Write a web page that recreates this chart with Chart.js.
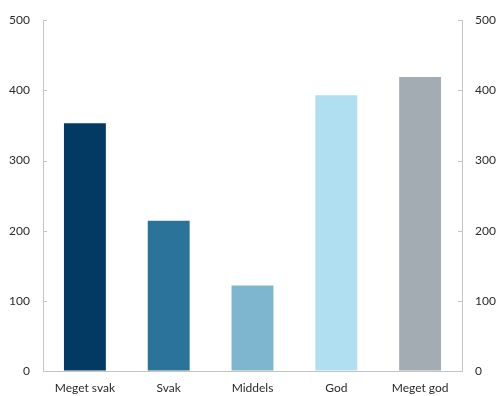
<!DOCTYPE html>
<html lang="no">
  <head>
    <meta charset="UTF-8" />
    <title>Vurdering</title>
    <style>
      html, body { margin: 0; padding: 0; background: #fff; }
      #wrap { width: 503px; height: 396px; }
    </style>
  </head>
  <body>
    <div id="wrap"><canvas id="chart" width="503" height="396"></canvas></div>

    <script src="https://cdn.jsdelivr.net/npm/chart.js@4/dist/chart.umd.min.js"></script>
    <script>
      // kategorier og verdier
      var kategorier = ['Meget svak', 'Svak', 'Middels', 'God', 'Meget god'];
      var antall = [353, 214, 122, 393, 419];
      var farger = ['#033a63', '#2c7399', '#7eb5cf', '#afdff0', '#a3abb3'];
      var aksemin = 0, aksemax = 500, steg = 100;

      var axisGrey = '#c4c4c4';
      var textCol = '#2a2a2a';

      // små tick-streker som peker innover fra y-aksene
      var innerTicks = {
        id: 'innerTicks',
        afterDatasetsDraw: function (chart) {
          var ctx = chart.ctx;
          ctx.save();
          ctx.strokeStyle = axisGrey;
          ctx.lineWidth = 1;
          ['y', 'y2'].forEach(function (id) {
            var s = chart.scales[id];
            var x = s.position === 'left' ? chart.chartArea.left : chart.chartArea.right;
            var dir = s.position === 'left' ? 1 : -1;
            s.ticks.forEach(function (t) {
              if (t.value === aksemin) return;
              var y = Math.round(s.getPixelForValue(t.value)) + 0.5;
              ctx.beginPath();
              ctx.moveTo(x, y);
              ctx.lineTo(x + dir * 4, y);
              ctx.stroke();
            });
          });
          ctx.restore();
        }
      };

      Chart.defaults.font.family = 'Lato';
      Chart.defaults.font.size = 12;
      Chart.defaults.color = textCol;

      var yAkse = function (pos, bredde) {
        return {
          position: pos,
          min: aksemin,
          max: aksemax,
          ticks: { stepSize: steg, padding: 13 },
          grid: { drawOnChartArea: false, drawTicks: false },
          border: { display: true, color: axisGrey, width: 1 },
          afterFit: function (s) { s.width = bredde; }
        };
      };

      new Chart(document.getElementById('chart'), {
        type: 'bar',
        data: {
          labels: kategorier,
          datasets: [{
            data: antall,
            backgroundColor: farger,
            barPercentage: 0.5,
            categoryPercentage: 1.0
          }]
        },
        options: {
          responsive: false,
          animation: false,
          layout: { padding: { top: 19, left: 0, right: 0, bottom: 0 } },
          plugins: {
            legend: { display: false },
            tooltip: { enabled: false }
          },
          scales: {
            x: {
              grid: { display: false, drawTicks: false },
              border: { display: true, color: axisGrey, width: 1 },
              ticks: { padding: 10 },
              afterFit: function (s) { s.height = 25; }
            },
            y: yAkse('left', 43),
            y2: yAkse('right', 41)
          }
        },
        plugins: [innerTicks]
      });
    </script>
  </body>
</html>
